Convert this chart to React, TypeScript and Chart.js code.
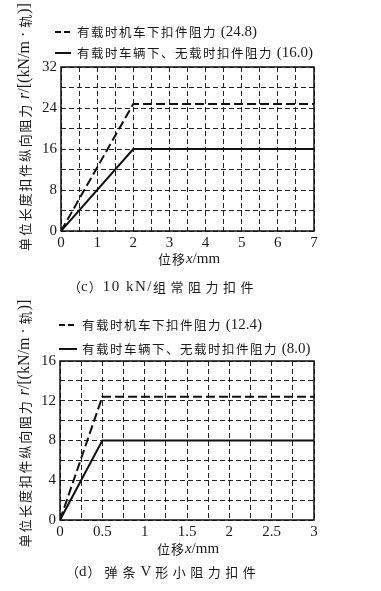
import React, { useEffect, useRef } from 'react';
import { Chart, registerables } from 'chart.js';
Chart.register(...registerables);

// ---- data (panel c) ----
const dispC = [0, 2, 7];
const locoC = [0, 24.8, 24.8];
const vehC = [0, 16, 16];
const xMajorC = [0, 1, 2, 3, 4, 5, 6, 7];
const yMajorC = [0, 8, 16, 24, 32];
const legendValC = ['(24.8)', '(16.0)'];

// ---- data (panel d) ----
const dispD = [0, 0.5, 3];
const locoD = [0, 12.4, 12.4];
const vehD = [0, 8, 8];
const xMajorD = [0, 0.5, 1, 1.5, 2, 2.5, 3];
const yMajorD = [0, 4, 8, 12, 16];
const legendValD = ['(12.4)', '(8.0)'];

const legendNames = ['有载时机车下扣件阻力', '有载时车辆下、无载时扣件阻力'];

const SERIF = '"Liberation Serif", "Times New Roman", serif';
const CJK = '"Noto Sans CJK SC", "Noto Sans CJK JP", sans-serif';
const TXT = '#1a1a1a';
const W = 381;

type Seg = { t: string; f: string; ls?: number };

function segsWidth(ctx: CanvasRenderingContext2D, segs: Seg[]) {
  let w = 0;
  for (const s of segs) {
    ctx.font = s.f;
    for (const ch of Array.from(s.t)) w += ctx.measureText(ch).width + (s.ls || 0);
  }
  return w;
}
function drawSegs(ctx: CanvasRenderingContext2D, segs: Seg[], x: number, y: number) {
  ctx.textBaseline = 'middle';
  ctx.textAlign = 'left';
  ctx.fillStyle = TXT;
  for (const s of segs) {
    ctx.font = s.f;
    for (const ch of Array.from(s.t)) {
      ctx.fillText(ch, x, y);
      x += ctx.measureText(ch).width + (s.ls || 0);
    }
  }
  return x;
}

const cjk = (n: number) => `${n}px ${CJK}`;
const ser = (n: number) => `${n}px ${SERIF}`;
const serI = (n: number) => `italic ${n}px ${SERIF}`;

interface Panel {
  disp: number[]; loco: number[]; veh: number[];
  xMajor: number[]; yMajor: number[]; legendVals: string[];
  caption: Seg[];
  height: number;
  area: { left: number; right: number; top: number; bottom: number };
  sample: [number, number]; legendTextX: number; legendY: [number, number];
  xTitleX: number; xTitleY: number; captionX: number; captionY: number;
  yTitleX: number; yTitleY: number;
}

const captionC: Seg[] = [
  { t: '（', f: cjk(13), ls: 0 },
  { t: 'c', f: ser(15), ls: 1 },
  { t: '）', f: cjk(13), ls: 1 },
  { t: '10 kN/', f: ser(15), ls: 1.5 },
  { t: '组常阻力扣件', f: cjk(13), ls: 4.5 },
];
const captionD: Seg[] = [
  { t: '（', f: cjk(13), ls: 0 },
  { t: 'd', f: ser(15), ls: 1 },
  { t: '）', f: cjk(13), ls: 4 },
  { t: '弹条', f: cjk(13), ls: 5 },
  { t: 'V', f: ser(15), ls: 4 },
  { t: '形小阻力扣件', f: cjk(13), ls: 4.5 },
];

const panelC: Panel = {
  disp: dispC, loco: locoC, veh: vehC, xMajor: xMajorC, yMajor: yMajorC, legendVals: legendValC,
  caption: captionC, height: 296,
  area: { left: 61, right: 314, top: 67, bottom: 231 },
  sample: [55, 71], legendTextX: 77, legendY: [32, 53],
  xTitleX: 189, xTitleY: 259, captionX: 68, captionY: 287,
  yTitleX: 25, yTitleY: 127,
};
const panelD: Panel = {
  disp: dispD, loco: locoD, veh: vehD, xMajor: xMajorD, yMajor: yMajorD, legendVals: legendValD,
  caption: captionD, height: 295,
  area: { left: 60, right: 314, top: 65, bottom: 224 },
  sample: [59, 77], legendTextX: 82, legendY: [29, 53],
  xTitleX: 188, xTitleY: 253, captionX: 66, captionY: 276,
  yTitleX: 25, yTitleY: 127.5,
};

function withMinor(majors: number[]) {
  const out: number[] = [];
  for (let i = 0; i < majors.length; i++) {
    out.push(majors[i]);
    if (i < majors.length - 1) out.push((majors[i] + majors[i + 1]) / 2);
  }
  return out;
}

function makeChart(canvas: HTMLCanvasElement, p: Panel) {
  const xGrid = withMinor(p.xMajor);
  const yGrid = withMinor(p.yMajor);
  const pts = (ys: number[]) => p.disp.map((x, i) => ({ x, y: ys[i] }));

  const textPlugin = {
    id: 'panelText',
    beforeDatasetsDraw(chart: any) {
      const { ctx, chartArea: a } = chart;
      ctx.save();
      ctx.setLineDash([]);
      ctx.strokeStyle = '#111';
      ctx.lineWidth = 1.5;
      ctx.strokeRect(a.left, a.top, a.right - a.left, a.bottom - a.top);
      ctx.restore();
    },
    afterDraw(chart: any) {
      const ctx: CanvasRenderingContext2D = chart.ctx;
      ctx.save();
      // legend
      for (let i = 0; i < 2; i++) {
        const y = p.legendY[i];
        ctx.beginPath();
        ctx.strokeStyle = '#111';
        ctx.lineWidth = 2;
        ctx.setLineDash(i === 0 ? [6, 3] : []);
        ctx.moveTo(p.sample[0], y);
        ctx.lineTo(p.sample[1], y);
        ctx.stroke();
        ctx.setLineDash([]);
        drawSegs(ctx, [
          { t: legendNames[i], f: cjk(12.5), ls: 1.5 },
          { t: ' ' + p.legendVals[i], f: ser(15) },
        ], p.legendTextX, y);
      }
      // x title
      const xt: Seg[] = [
        { t: '位移', f: cjk(13), ls: 1 },
        { t: 'x', f: serI(15) },
        { t: '/mm', f: ser(15) },
      ];
      const xw = segsWidth(ctx, xt);
      drawSegs(ctx, xt, p.xTitleX - xw / 2, p.xTitleY);
      // y title
      const yt: Seg[] = [
        { t: '单位长度扣件纵向阻力', f: cjk(13), ls: 1.8 },
        { t: ' ', f: ser(16) },
        { t: 'r', f: serI(16) },
        { t: '/[(kN/m · ', f: ser(16) },
        { t: '轨', f: cjk(13), ls: 1 },
        { t: ')]', f: ser(16) },
      ];
      const yw = segsWidth(ctx, yt);
      ctx.save();
      ctx.translate(p.yTitleX, p.yTitleY);
      ctx.rotate(-Math.PI / 2);
      drawSegs(ctx, yt, -yw / 2, 0);
      ctx.restore();
      // caption
      drawSegs(ctx, p.caption, p.captionX, p.captionY);
      ctx.restore();
    },
  };

  return new Chart(canvas, {
    type: 'line',
    data: {
      datasets: [
        {
          label: legendNames[0] + ' ' + p.legendVals[0],
          data: pts(p.loco),
          borderColor: '#111',
          borderWidth: 2,
          borderDash: [9, 4],
          pointRadius: 0,
          tension: 0,
          fill: false,
        },
        {
          label: legendNames[1] + ' ' + p.legendVals[1],
          data: pts(p.veh),
          borderColor: '#111',
          borderWidth: 2,
          pointRadius: 0,
          tension: 0,
          fill: false,
        },
      ],
    },
    options: {
      animation: false,
      responsive: false,
      devicePixelRatio: 1,
      layout: { padding: { left: 0, right: W - p.area.right, top: p.area.top, bottom: 0 } },
      plugins: { legend: { display: false }, tooltip: { enabled: false } },
      scales: {
        x: {
          type: 'linear',
          min: 0,
          max: p.xMajor[p.xMajor.length - 1],
          afterBuildTicks: (s: any) => { s.ticks = xGrid.map((v) => ({ value: v })); },
          afterFit: (s: any) => { s.height = p.height - p.area.bottom; },
          ticks: {
            autoSkip: false,
            maxRotation: 0,
            padding: 3,
            color: TXT,
            font: { family: SERIF, size: 15 },
            callback: (v: any) => (p.xMajor.includes(Number(v)) ? String(v) : ''),
          },
          grid: { color: '#222', lineWidth: 1, drawTicks: false },
          border: { display: false, dash: [5, 3] },
        },
        y: {
          type: 'linear',
          min: 0,
          max: p.yMajor[p.yMajor.length - 1],
          afterBuildTicks: (s: any) => { s.ticks = yGrid.map((v) => ({ value: v })); },
          afterFit: (s: any) => { s.width = p.area.left; },
          ticks: {
            autoSkip: false,
            padding: 4,
            color: TXT,
            font: { family: SERIF, size: 15 },
            callback: (v: any) => (p.yMajor.includes(Number(v)) ? String(v) : ''),
          },
          grid: { color: '#222', lineWidth: 1, drawTicks: false },
          border: { display: false, dash: [5, 3] },
        },
      },
    },
    plugins: [textPlugin],
  } as any);
}

export default function App() {
  const refC = useRef<HTMLCanvasElement>(null);
  const refD = useRef<HTMLCanvasElement>(null);
  useEffect(() => {
    document.body.style.margin = '0';
    const c1 = makeChart(refC.current!, panelC);
    const c2 = makeChart(refD.current!, panelD);
    return () => { c1.destroy(); c2.destroy(); };
  }, []);
  return (
    <div style={{ width: W, height: 591, background: '#fff' }}>
      <canvas ref={refC} width={W} height={panelC.height} style={{ display: 'block', width: W, height: panelC.height }} />
      <canvas ref={refD} width={W} height={panelD.height} style={{ display: 'block', width: W, height: panelD.height }} />
    </div>
  );
}
